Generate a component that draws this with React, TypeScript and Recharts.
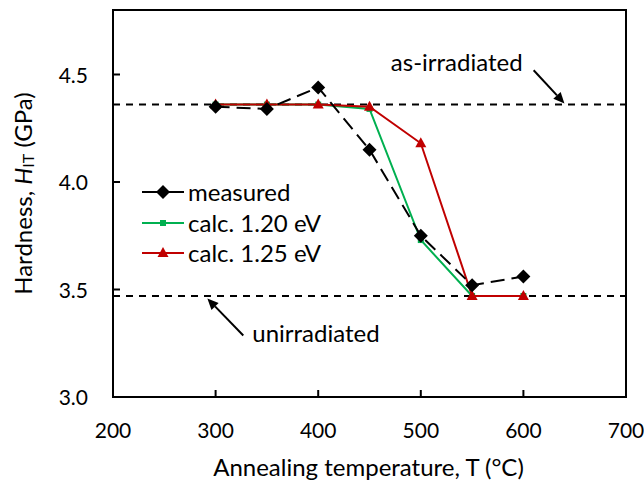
import React from 'react';
import { LineChart, Line, XAxis, YAxis, ReferenceLine, ReferenceArea, Legend, Label } from 'recharts';

const temps = [300, 350, 400, 450, 500, 550, 600];
const measured = [4.35, 4.34, 4.44, 4.15, 3.75, 3.52, 3.56];
const calc120 = [4.36, 4.36, 4.36, 4.34, 3.73, 3.47, 3.47];
const calc125 = [4.36, 4.36, 4.36, 4.35, 4.18, 3.47, 3.47];
const asIrradiated = 4.36;
const unirradiated = 3.47;
const xTicks = [200, 300, 400, 500, 600, 700];
const yTicks = [3.0, 3.5, 4.0, 4.5];
const xDomain: [number, number] = [200, 700];
const yDomain: [number, number] = [3.0, 4.8];
const seriesNames = ['measured', 'calc. 1.20 eV', 'calc. 1.25 eV'];
const asIrrArrow = [{ x: 610, y: 4.52 }, { x: 640, y: 4.365 }];
const unirrArrow = [{ x: 327, y: 3.286 }, { x: 292, y: 3.458 }];

const data = temps.map((t, i) => ({ t, measured: measured[i], calc120: calc120[i], calc125: calc125[i] }));

const FONT = 'Lato, "Open Sans", sans-serif';
const FS = 24;
const TFS = 21;
const GREEN = '#00B050';
const RED = '#C00000';

const Diamond = (p: any) => {
  const { cx, cy } = p;
  if (cx == null || cy == null) return <g />;
  const r = 7;
  return <polygon points={`${cx},${cy - r} ${cx + r},${cy} ${cx},${cy + r} ${cx - r},${cy}`} fill="#000" />;
};
const Square = (p: any) => {
  const { cx, cy } = p;
  if (cx == null || cy == null) return <g />;
  return <rect x={cx - 3} y={cy - 3} width={6} height={6} fill={GREEN} />;
};
const Triangle = (p: any) => {
  const { cx, cy } = p;
  if (cx == null || cy == null) return <g />;
  return <polygon points={`${cx},${cy - 6} ${cx + 5.5},${cy + 4} ${cx - 5.5},${cy + 4}`} fill={RED} />;
};

const XTick = (p: any) => {
  const { x, y, payload } = p;
  return (
    <g>
      <line x1={x} x2={x} y1={y} y2={y - 7} stroke="#000" strokeWidth={2} />
      <text x={x} y={y + 41} textAnchor="middle" fontFamily={FONT} fontSize={TFS} fill="#000">{payload.value}</text>
    </g>
  );
};
const YTick = (p: any) => {
  const { x, y, payload } = p;
  return (
    <g>
      <line x1={x} x2={x + 7} y1={y} y2={y} stroke="#000" strokeWidth={2} />
      <text x={x - 25} y={y + 8} textAnchor="end" fontFamily={FONT} fontSize={TFS} fill="#000">{Number(payload.value).toFixed(1)}</text>
    </g>
  );
};

const YLabel = (p: any) => {
  const vb = p.viewBox || { x: 0, y: 10, width: 113, height: 387 };
  const cx = vb.x + 22;
  const cy = vb.y + vb.height / 2 - 10;
  return (
    <text x={cx} y={cy} transform={`rotate(-90, ${cx}, ${cy})`} textAnchor="middle" dominantBaseline="central" fontFamily={FONT} fontSize={FS} fill="#000">
      Hardness, <tspan fontStyle="italic">H</tspan><tspan fontSize={16} dy={5}>IT</tspan><tspan dy={-5}> (GPa)</tspan>
    </text>
  );
};

const XLabel = (p: any) => {
  const vb = p.viewBox || { x: 113, y: 397, width: 513, height: 85 };
  return (
    <text x={vb.x + vb.width / 2 - 1} y={vb.y + 79} textAnchor="middle" fontFamily={FONT} fontSize={FS} fill="#000">
      Annealing temperature, T (°C)
    </text>
  );
};

const arrowShape = (label: string, anchor: 'start' | 'end', dx: number, dy: number) => (p: any) => {
  const { x1, y1, x2, y2 } = p;
  if (x1 == null) return <g />;
  const ang = Math.atan2(y2 - y1, x2 - x1);
  const L = 11, W = 5;
  const bx = x2 - L * Math.cos(ang), by = y2 - L * Math.sin(ang);
  const px = -Math.sin(ang) * W, py = Math.cos(ang) * W;
  return (
    <g>
      <line x1={x1} y1={y1} x2={bx} y2={by} stroke="#000" strokeWidth={2} />
      <polygon points={`${x2},${y2} ${bx + px},${by + py} ${bx - px},${by - py}`} fill="#000" />
      <text x={x1 + dx} y={y1 + dy} textAnchor={anchor} fontFamily={FONT} fontSize={FS} fill="#000">{label}</text>
    </g>
  );
};

const LegendContent = () => {
  const rows = [
    { name: seriesNames[0], color: '#000', marker: 'diamond' },
    { name: seriesNames[1], color: GREEN, marker: 'square' },
    { name: seriesNames[2], color: RED, marker: 'triangle' },
  ];
  return (
    <div style={{ fontFamily: FONT, fontSize: FS, color: '#000' }}>
      {rows.map((r) => (
        <div key={r.name} style={{ display: 'flex', alignItems: 'center', height: 30.5 }}>
          <svg width={46} height={20} style={{ display: 'block' }}>
            <line x1={0} x2={42} y1={10} y2={10} stroke={r.color} strokeWidth={2} />
            {r.marker === 'diamond' && <polygon points="21,3 28,10 21,17 14,10" fill="#000" />}
            {r.marker === 'square' && <rect x={18} y={7} width={6} height={6} fill={GREEN} />}
            {r.marker === 'triangle' && <polygon points="21,4 26.5,14 15.5,14" fill={RED} />}
          </svg>
          <span style={{ lineHeight: 1 }}>{r.name}</span>
        </div>
      ))}
    </div>
  );
};

export default function App() {
  return (
    <div style={{ position: 'absolute', left: 0, top: 0, background: '#fff' }}>
      <LineChart width={644} height={482} data={data} margin={{ top: 10, right: 18, left: 0, bottom: 55 }}>
        <XAxis
          dataKey="t"
          type="number"
          domain={xDomain}
          ticks={xTicks}
          allowDataOverflow
          height={30}
          tickSize={0}
          tickMargin={0}
          tick={<XTick />}
          axisLine={{ stroke: '#000', strokeWidth: 2 }}
          tickLine={false}
        >
          <Label content={<XLabel />} />
        </XAxis>
        <YAxis
          type="number"
          domain={yDomain}
          ticks={yTicks}
          allowDataOverflow
          width={113}
          tickSize={0}
          tickMargin={0}
          tick={<YTick />}
          axisLine={{ stroke: '#000', strokeWidth: 2 }}
          tickLine={false}
        >
          <Label content={<YLabel />} />
        </YAxis>
        <ReferenceArea x1={xDomain[0]} x2={xDomain[1]} y1={yDomain[0]} y2={yDomain[1]} fill="none" fillOpacity={0} stroke="#000" strokeWidth={2} />
        <ReferenceLine y={asIrradiated} stroke="#000" strokeWidth={2} strokeDasharray="7 6" />
        <ReferenceLine y={unirradiated} stroke="#000" strokeWidth={2} strokeDasharray="7 6" />
        <ReferenceLine segment={asIrrArrow} shape={arrowShape('as-irradiated', 'end', -11, 1)} />
        <ReferenceLine segment={unirrArrow} shape={arrowShape('unirradiated', 'start', 9, 6)} />
        <Line dataKey="calc120" name={seriesNames[1]} stroke={GREEN} strokeWidth={2} dot={<Square />} isAnimationActive={false} />
        <Line dataKey="calc125" name={seriesNames[2]} stroke={RED} strokeWidth={2} dot={<Triangle />} isAnimationActive={false} />
        <Line dataKey="measured" name={seriesNames[0]} stroke="#000" strokeWidth={2} strokeDasharray="14 7" dot={<Diamond />} isAnimationActive={false} />
        <Legend layout="vertical" align="center" verticalAlign="middle" content={<LegendContent />} wrapperStyle={{ left: 142, top: 177, width: 'auto' }} />
      </LineChart>
    </div>
  );
}
